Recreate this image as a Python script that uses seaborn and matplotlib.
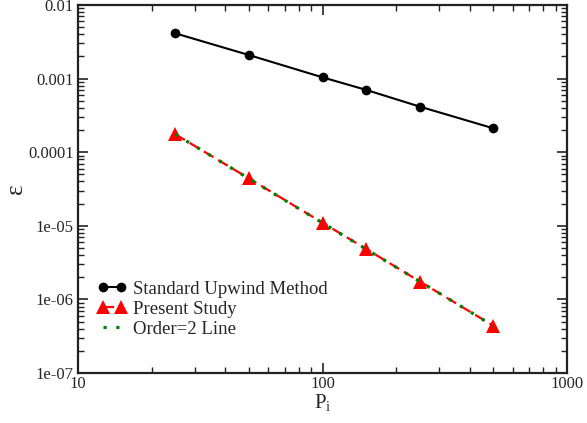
import matplotlib
matplotlib.use("Agg")
import matplotlib.pyplot as plt
import seaborn as sns
import pandas as pd
from matplotlib.ticker import FixedLocator, FixedFormatter, LogLocator, NullFormatter

# Peclet numbers and errors
peclet = [25, 50, 100, 150, 250, 500]
err_upwind = [0.00412, 0.00209, 0.00104, 0.000706, 0.000416, 0.000211]
err_present = [1.75e-4, 4.4e-5, 1.1e-5, 4.9e-6, 1.75e-6, 4.375e-7]
err_order2 = [1.75e-4, 4.375e-5, 1.094e-5, 4.86e-6, 1.75e-6, 4.375e-7]

series_names = ["Standard Upwind Method", "Present Study", "Order=2 Line"]

x_ticks = [10, 100, 1000]
x_tick_labels = ["10", "100", "1000"]
y_ticks = [1e-7, 1e-6, 1e-5, 1e-4, 1e-3, 1e-2]
y_tick_labels = ["1e-07", "1e-06", "1e-05", "0.0001", "0.001", "0.01"]

sns.set_style("ticks")
plt.rcParams["font.family"] = ["Liberation Serif", "DejaVu Serif"]
plt.rcParams["mathtext.fontset"] = "custom"
plt.rcParams["mathtext.rm"] = "Liberation Serif"
plt.rcParams["mathtext.it"] = "Liberation Serif:italic"

df = pd.DataFrame({"Pe": peclet, "upwind": err_upwind,
                   "present": err_present, "order2": err_order2})

fig = plt.figure(figsize=(5.87, 4.23), dpi=100)
ax = fig.add_axes([0.1329, 0.1182, 0.8331, 0.8700])

sns.lineplot(data=df, x="Pe", y="upwind", ax=ax, color="black", lw=1.5,
             marker="o", markersize=7, markeredgewidth=0, label=series_names[0])
sns.lineplot(data=df, x="Pe", y="present", ax=ax, color="red", lw=1.6,
             marker="^", markersize=10, markeredgewidth=0,
             dashes=(5, 2.5), label=series_names[1])
sns.lineplot(data=df, x="Pe", y="order2", ax=ax, color="#008000", lw=2.3,
             label=series_names[2])
for line in ax.get_lines()[2:]:
    line.set_linestyle((0, (1, 3.0)))

ax.set_xscale("log")
ax.set_yscale("log")
ax.set_xlim(10, 1000)
ax.set_ylim(1e-7, 1e-2)

ax.xaxis.set_major_locator(FixedLocator(x_ticks))
ax.xaxis.set_major_formatter(FixedFormatter(x_tick_labels))
ax.yaxis.set_major_locator(FixedLocator(y_ticks))
ax.yaxis.set_major_formatter(FixedFormatter(y_tick_labels))
ax.xaxis.set_minor_locator(LogLocator(base=10, subs=range(2, 10)))
ax.yaxis.set_minor_locator(LogLocator(base=10, subs=range(2, 10)))
ax.xaxis.set_minor_formatter(NullFormatter())
ax.yaxis.set_minor_formatter(NullFormatter())

ax.tick_params(which="both", direction="in", top=True, right=True,
               labelsize=12, color="#222222", pad=2)
ax.tick_params(which="major", length=7, width=1.2)
ax.tick_params(which="minor", length=4, width=1.0)
ax.tick_params(axis="y", pad=3)
for sp in ax.spines.values():
    sp.set_linewidth(1.6)
    sp.set_color("#222222")

ax.set_xlabel(r"P$_\mathrm{i}$", fontsize=15, labelpad=0)
ax.set_ylabel("ε", fontsize=18, labelpad=1)

leg = ax.legend(loc="lower left", bbox_to_anchor=(0.0235, 0.075), frameon=False,
                fontsize=13.5, numpoints=2, handlelength=1.6, handletextpad=0.3,
                labelspacing=0.15, borderaxespad=0.0)

fig.savefig("out.png", dpi=100)
